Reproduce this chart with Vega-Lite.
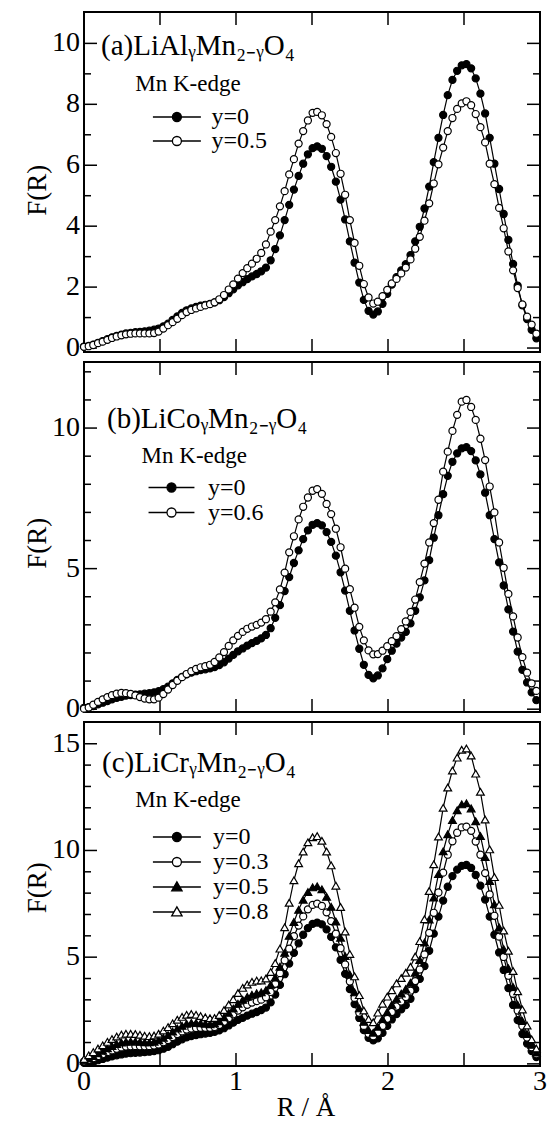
{
"$schema": "https://vega.github.io/schema/vega-lite/v6.json",
"background": "white",
"padding": {"left": 23, "top": 11, "right": 5, "bottom": 2},
"datasets": {
"xt": [{"v":0},{"v":0.5},{"v":1},{"v":1.5},{"v":2},{"v":2.5},{"v":3}],
"xl": [{"v":0},{"v":1},{"v":2},{"v":3}],
"ya": [{"v":0},{"v":2},{"v":4},{"v":6},{"v":8},{"v":10}],
"yam": [{"v":1},{"v":3},{"v":5},{"v":7},{"v":9}],
"yb": [{"v":0},{"v":5},{"v":10}],
"ybm": [{"v":1},{"v":2},{"v":3},{"v":4},{"v":6},{"v":7},{"v":8},{"v":9},{"v":11},{"v":12}],
"yc": [{"v":0},{"v":5},{"v":10},{"v":15}],
"ycm": [{"v":1},{"v":2},{"v":3},{"v":4},{"v":6},{"v":7},{"v":8},{"v":9},{"v":11},{"v":12},{"v":13},{"v":14}],
"one": [{"n":1}],
"fr": [
{"R":0,"A0":0.05,"al":0.04,"co":0.02,"cr3":0.11,"cr5":0.16,"cr8":0.23},
{"R":0.031,"A0":0.07,"al":0.06,"co":0.06,"cr3":0.19,"cr5":0.27,"cr8":0.40},
{"R":0.061,"A0":0.11,"al":0.10,"co":0.16,"cr3":0.26,"cr5":0.37,"cr8":0.55},
{"R":0.092,"A0":0.17,"al":0.16,"co":0.26,"cr3":0.36,"cr5":0.50,"cr8":0.72},
{"R":0.123,"A0":0.23,"al":0.21,"co":0.35,"cr3":0.45,"cr5":0.61,"cr8":0.87},
{"R":0.154,"A0":0.29,"al":0.27,"co":0.43,"cr3":0.55,"cr5":0.73,"cr8":1.03},
{"R":0.184,"A0":0.35,"al":0.33,"co":0.50,"cr3":0.63,"cr5":0.84,"cr8":1.16},
{"R":0.215,"A0":0.40,"al":0.38,"co":0.55,"cr3":0.71,"cr5":0.93,"cr8":1.28},
{"R":0.246,"A0":0.44,"al":0.42,"co":0.58,"cr3":0.77,"cr5":1.00,"cr8":1.37},
{"R":0.276,"A0":0.48,"al":0.45,"co":0.57,"cr3":0.81,"cr5":1.04,"cr8":1.41},
{"R":0.307,"A0":0.50,"al":0.47,"co":0.54,"cr3":0.82,"cr5":1.05,"cr8":1.41},
{"R":0.338,"A0":0.52,"al":0.48,"co":0.49,"cr3":0.83,"cr5":1.05,"cr8":1.40},
{"R":0.368,"A0":0.53,"al":0.48,"co":0.43,"cr3":0.82,"cr5":1.03,"cr8":1.36},
{"R":0.399,"A0":0.55,"al":0.48,"co":0.38,"cr3":0.82,"cr5":1.01,"cr8":1.32},
{"R":0.430,"A0":0.57,"al":0.48,"co":0.35,"cr3":0.83,"cr5":1.01,"cr8":1.30},
{"R":0.461,"A0":0.60,"al":0.49,"co":0.35,"cr3":0.86,"cr5":1.04,"cr8":1.33},
{"R":0.491,"A0":0.64,"al":0.54,"co":0.41,"cr3":0.91,"cr5":1.10,"cr8":1.41},
{"R":0.522,"A0":0.71,"al":0.64,"co":0.54,"cr3":1.01,"cr5":1.22,"cr8":1.56},
{"R":0.553,"A0":0.80,"al":0.75,"co":0.70,"cr3":1.12,"cr5":1.35,"cr8":1.72},
{"R":0.583,"A0":0.92,"al":0.85,"co":0.86,"cr3":1.26,"cr5":1.51,"cr8":1.90},
{"R":0.614,"A0":1.04,"al":0.96,"co":1.01,"cr3":1.40,"cr5":1.66,"cr8":2.07},
{"R":0.645,"A0":1.15,"al":1.08,"co":1.14,"cr3":1.52,"cr5":1.78,"cr8":2.20},
{"R":0.675,"A0":1.24,"al":1.18,"co":1.25,"cr3":1.61,"cr5":1.88,"cr8":2.30},
{"R":0.706,"A0":1.30,"al":1.25,"co":1.35,"cr3":1.66,"cr5":1.92,"cr8":2.34},
{"R":0.737,"A0":1.35,"al":1.30,"co":1.43,"cr3":1.68,"cr5":1.92,"cr8":2.30},
{"R":0.767,"A0":1.39,"al":1.35,"co":1.49,"cr3":1.69,"cr5":1.90,"cr8":2.24},
{"R":0.798,"A0":1.42,"al":1.40,"co":1.53,"cr3":1.69,"cr5":1.88,"cr8":2.18},
{"R":0.829,"A0":1.45,"al":1.44,"co":1.58,"cr3":1.69,"cr5":1.86,"cr8":2.14},
{"R":0.859,"A0":1.50,"al":1.50,"co":1.68,"cr3":1.73,"cr5":1.89,"cr8":2.15},
{"R":0.890,"A0":1.57,"al":1.60,"co":1.84,"cr3":1.82,"cr5":2.00,"cr8":2.29},
{"R":0.921,"A0":1.67,"al":1.74,"co":2.03,"cr3":1.97,"cr5":2.18,"cr8":2.52},
{"R":0.952,"A0":1.80,"al":1.92,"co":2.25,"cr3":2.14,"cr5":2.39,"cr8":2.78},
{"R":0.982,"A0":1.93,"al":2.09,"co":2.45,"cr3":2.32,"cr5":2.59,"cr8":3.03},
{"R":1.013,"A0":2.06,"al":2.28,"co":2.61,"cr3":2.50,"cr5":2.82,"cr8":3.32},
{"R":1.044,"A0":2.16,"al":2.46,"co":2.75,"cr3":2.65,"cr5":3.00,"cr8":3.56},
{"R":1.074,"A0":2.26,"al":2.62,"co":2.86,"cr3":2.77,"cr5":3.14,"cr8":3.72},
{"R":1.105,"A0":2.35,"al":2.77,"co":2.94,"cr3":2.87,"cr5":3.24,"cr8":3.84},
{"R":1.136,"A0":2.43,"al":2.93,"co":3.00,"cr3":2.94,"cr5":3.31,"cr8":3.90},
{"R":1.166,"A0":2.52,"al":3.12,"co":3.08,"cr3":3.01,"cr5":3.35,"cr8":3.91},
{"R":1.197,"A0":2.64,"al":3.40,"co":3.20,"cr3":3.12,"cr5":3.46,"cr8":4.00},
{"R":1.228,"A0":2.88,"al":3.82,"co":3.47,"cr3":3.37,"cr5":3.70,"cr8":4.30},
{"R":1.258,"A0":3.25,"al":4.20,"co":3.80,"cr3":3.75,"cr5":4.05,"cr8":4.72},
{"R":1.289,"A0":3.70,"al":4.65,"co":4.26,"cr3":4.25,"cr5":4.55,"cr8":5.40},
{"R":1.320,"A0":4.20,"al":5.15,"co":4.86,"cr3":4.85,"cr5":5.20,"cr8":6.40},
{"R":1.350,"A0":4.70,"al":5.70,"co":5.58,"cr3":5.40,"cr5":6.00,"cr8":7.55},
{"R":1.381,"A0":5.20,"al":6.20,"co":6.15,"cr3":5.98,"cr5":6.65,"cr8":8.60},
{"R":1.412,"A0":5.65,"al":6.71,"co":6.75,"cr3":6.48,"cr5":7.22,"cr8":9.40},
{"R":1.442,"A0":6.05,"al":7.12,"co":7.20,"cr3":6.91,"cr5":7.69,"cr8":9.95},
{"R":1.473,"A0":6.36,"al":7.47,"co":7.53,"cr3":7.24,"cr5":8.05,"cr8":10.38},
{"R":1.504,"A0":6.56,"al":7.72,"co":7.77,"cr3":7.45,"cr5":8.27,"cr8":10.62},
{"R":1.534,"A0":6.62,"al":7.75,"co":7.83,"cr3":7.51,"cr5":8.32,"cr8":10.67},
{"R":1.565,"A0":6.54,"al":7.64,"co":7.66,"cr3":7.40,"cr5":8.18,"cr8":10.45},
{"R":1.596,"A0":6.30,"al":7.35,"co":7.30,"cr3":7.10,"cr5":7.83,"cr8":9.95},
{"R":1.626,"A0":5.95,"al":6.93,"co":6.94,"cr3":6.69,"cr5":7.36,"cr8":9.30},
{"R":1.657,"A0":5.46,"al":6.40,"co":6.42,"cr3":6.10,"cr5":6.67,"cr8":8.35},
{"R":1.688,"A0":4.87,"al":5.72,"co":5.76,"cr3":5.42,"cr5":5.91,"cr8":7.35},
{"R":1.718,"A0":4.22,"al":5.03,"co":5.00,"cr3":4.66,"cr5":5.05,"cr8":6.20},
{"R":1.749,"A0":3.50,"al":4.20,"co":4.27,"cr3":3.86,"cr5":4.19,"cr8":5.15},
{"R":1.780,"A0":2.80,"al":3.45,"co":3.61,"cr3":3.09,"cr5":3.35,"cr8":4.10},
{"R":1.811,"A0":2.15,"al":2.70,"co":2.93,"cr3":2.39,"cr5":2.60,"cr8":3.22},
{"R":1.841,"A0":1.58,"al":2.10,"co":2.45,"cr3":1.78,"cr5":1.97,"cr8":2.50},
{"R":1.872,"A0":1.22,"al":1.66,"co":2.09,"cr3":1.41,"cr5":1.59,"cr8":2.10},
{"R":1.903,"A0":1.10,"al":1.46,"co":1.95,"cr3":1.29,"cr5":1.46,"cr8":1.95},
{"R":1.933,"A0":1.20,"al":1.52,"co":1.96,"cr3":1.47,"cr5":1.74,"cr8":2.40},
{"R":1.964,"A0":1.45,"al":1.70,"co":2.08,"cr3":1.78,"cr5":2.10,"cr8":2.82},
{"R":1.995,"A0":1.78,"al":1.91,"co":2.24,"cr3":2.11,"cr5":2.43,"cr8":3.15},
{"R":2.025,"A0":2.08,"al":2.12,"co":2.42,"cr3":2.43,"cr5":2.77,"cr8":3.45},
{"R":2.056,"A0":2.33,"al":2.27,"co":2.60,"cr3":2.69,"cr5":3.05,"cr8":3.77},
{"R":2.087,"A0":2.55,"al":2.45,"co":2.85,"cr3":2.92,"cr5":3.29,"cr8":4.02},
{"R":2.117,"A0":2.75,"al":2.64,"co":3.12,"cr3":3.13,"cr5":3.51,"cr8":4.27},
{"R":2.148,"A0":3.05,"al":2.91,"co":3.46,"cr3":3.43,"cr5":3.80,"cr8":4.55},
{"R":2.179,"A0":3.50,"al":3.26,"co":3.90,"cr3":3.88,"cr5":4.27,"cr8":5.03},
{"R":2.209,"A0":3.98,"al":3.65,"co":4.52,"cr3":4.42,"cr5":4.87,"cr8":5.75},
{"R":2.240,"A0":4.58,"al":4.18,"co":5.18,"cr3":5.13,"cr5":5.68,"cr8":6.78},
{"R":2.271,"A0":5.30,"al":4.75,"co":5.93,"cr3":6.14,"cr5":6.76,"cr8":8.10},
{"R":2.301,"A0":6.10,"al":5.40,"co":6.62,"cr3":7.08,"cr5":7.79,"cr8":9.35},
{"R":2.332,"A0":6.90,"al":6.03,"co":7.45,"cr3":8.03,"cr5":8.89,"cr8":10.65},
{"R":2.363,"A0":7.65,"al":6.58,"co":8.45,"cr3":8.96,"cr5":9.96,"cr8":12.00},
{"R":2.393,"A0":8.30,"al":7.12,"co":9.16,"cr3":9.80,"cr5":10.76,"cr8":12.95},
{"R":2.424,"A0":8.80,"al":7.55,"co":9.90,"cr3":10.43,"cr5":11.42,"cr8":13.75},
{"R":2.455,"A0":9.10,"al":7.85,"co":10.47,"cr3":10.83,"cr5":11.88,"cr8":14.35},
{"R":2.485,"A0":9.28,"al":8.03,"co":10.94,"cr3":11.08,"cr5":12.16,"cr8":14.72},
{"R":2.516,"A0":9.32,"al":8.10,"co":11.00,"cr3":11.12,"cr5":12.21,"cr8":14.78},
{"R":2.547,"A0":9.18,"al":7.97,"co":10.75,"cr3":10.92,"cr5":11.97,"cr8":14.45},
{"R":2.577,"A0":8.85,"al":7.68,"co":10.29,"cr3":10.42,"cr5":11.37,"cr8":13.60},
{"R":2.608,"A0":8.35,"al":7.25,"co":9.62,"cr3":9.80,"cr5":10.68,"cr8":12.75},
{"R":2.639,"A0":7.70,"al":6.75,"co":8.86,"cr3":8.94,"cr5":9.69,"cr8":11.45},
{"R":2.669,"A0":6.90,"al":6.05,"co":7.92,"cr3":7.94,"cr5":8.57,"cr8":10.05},
{"R":2.700,"A0":6.05,"al":5.38,"co":7.00,"cr3":6.94,"cr5":7.48,"cr8":8.75},
{"R":2.731,"A0":5.22,"al":4.60,"co":5.93,"cr3":5.96,"cr5":6.40,"cr8":7.45},
{"R":2.761,"A0":4.40,"al":3.93,"co":5.03,"cr3":5.01,"cr5":5.38,"cr8":6.25},
{"R":2.792,"A0":3.55,"al":3.17,"co":4.10,"cr3":4.13,"cr5":4.48,"cr8":5.30},
{"R":2.823,"A0":2.76,"al":2.55,"co":3.30,"cr3":3.28,"cr5":3.60,"cr8":4.35},
{"R":2.853,"A0":2.05,"al":1.97,"co":2.55,"cr3":2.50,"cr5":2.77,"cr8":3.40},
{"R":2.884,"A0":1.40,"al":1.43,"co":1.85,"cr3":1.78,"cr5":2.01,"cr8":2.55},
{"R":2.915,"A0":0.95,"al":1.03,"co":1.30,"cr3":1.23,"cr5":1.40,"cr8":1.80},
{"R":2.945,"A0":0.60,"al":0.77,"co":0.92,"cr3":0.78,"cr5":0.89,"cr8":1.15},
{"R":2.976,"A0":0.32,"al":0.47,"co":0.65,"cr3":0.45,"cr5":0.53,"cr8":0.72}
]},
"vconcat": [
{
 "width": 456, "height": 340,
 "title": {"text": "(a)LiAlᵧMn₂₋ᵧO₄", "anchor": "start", "frame": "group", "offset": -49, "dx": 17},
 "layer": [
  {"data": {"name": "xt"}, "mark": {"type": "tick", "orient": "vertical", "size": 26, "thickness": 1.5, "color": "black", "opacity": 1, "clip": true},
   "encoding": {"x": {"field": "v", "type": "quantitative", "axis": null}, "y": {"datum": -0.13, "type": "quantitative", "axis": null}}},
  {"data": {"name": "xt"}, "mark": {"type": "tick", "orient": "vertical", "size": 26, "thickness": 1.5, "color": "black", "opacity": 1, "clip": true},
   "encoding": {"x": {"field": "v", "type": "quantitative", "axis": null}, "y": {"datum": 11.03, "type": "quantitative", "axis": null}}},
  {"data": {"name": "ya"}, "mark": {"type": "tick", "orient": "horizontal", "size": 26, "thickness": 1.5, "color": "black", "opacity": 1, "clip": true},
   "encoding": {"y": {"field": "v", "type": "quantitative", "axis": null}, "x": {"datum": 0, "type": "quantitative", "axis": null}}},
  {"data": {"name": "ya"}, "mark": {"type": "tick", "orient": "horizontal", "size": 26, "thickness": 1.5, "color": "black", "opacity": 1, "clip": true},
   "encoding": {"y": {"field": "v", "type": "quantitative", "axis": null}, "x": {"datum": 3, "type": "quantitative", "axis": null}}},
  {"data": {"name": "yam"}, "mark": {"type": "tick", "orient": "horizontal", "size": 14, "thickness": 1.5, "color": "black", "opacity": 1, "clip": true},
   "encoding": {"y": {"field": "v", "type": "quantitative", "axis": null}, "x": {"datum": 0, "type": "quantitative", "axis": null}}},
  {"data": {"name": "yam"}, "mark": {"type": "tick", "orient": "horizontal", "size": 14, "thickness": 1.5, "color": "black", "opacity": 1, "clip": true},
   "encoding": {"y": {"field": "v", "type": "quantitative", "axis": null}, "x": {"datum": 3, "type": "quantitative", "axis": null}}},
  {"data": {"name": "fr"}, "transform": [{"fold": ["A0", "al"], "as": ["s", "F"]}],
   "layer": [
    {"mark": {"type": "line", "color": "black", "strokeWidth": 1.2},
     "encoding": {
      "x": {"field": "R", "type": "quantitative", "scale": {"domain": [0, 3], "nice": false, "zero": false}, "axis": null},
      "y": {"field": "F", "type": "quantitative", "scale": {"domain": [-0.13, 11.03], "nice": false, "zero": false}, "axis": null},
      "detail": {"field": "s"}
     }},
    {"transform": [{"filter": "datum.s === 'A0'"}],
     "mark": {"type": "point", "shape": "circle", "filled": true, "stroke": "black", "strokeWidth": 1.2, "size": 50, "opacity": 1, "fillOpacity": 1},
     "encoding": {
      "x": {"field": "R", "type": "quantitative", "axis": null},
      "y": {"field": "F", "type": "quantitative", "axis": null},
      "fill": {"field": "s", "type": "nominal", "scale": {"domain": ["A0", "al"], "range": ["black", "white"]},
               "legend": {"orient": "none", "legendX": 51.3, "legendY": 61, "title": "Mn K-edge", "titlePadding": 9, "labelExpr": "datum.value === 'A0' ? 'y=0' : 'y=0.5'", "symbolOffset": 29.6, "labelOffset": 22.6, "rowPadding": 0,
                          "encode": {"symbols": {"update": {"shape": {"value": "M-5.33,0H-1M1,0H5.33M1,0A1,1,0,1,1,-1,0A1,1,0,1,1,1,0Z"}, "size": {"value": 81}, "stroke": {"value": "black"}, "strokeWidth": {"value": 1.3}, "opacity": {"value": 1}}}}}}
     }},
    {"transform": [{"filter": "datum.s !== 'A0'"}],
     "mark": {"type": "point", "shape": "circle", "filled": true, "stroke": "black", "strokeWidth": 1.2, "size": 50, "opacity": 1, "fillOpacity": 1},
     "encoding": {
      "x": {"field": "R", "type": "quantitative", "axis": null},
      "y": {"field": "F", "type": "quantitative", "axis": null},
      "fill": {"field": "s", "type": "nominal"}
     }}
   ]},
  {"data": {"name": "ya"}, "mark": {"type": "text", "align": "right", "baseline": "middle", "dx": -4, "font": "Liberation Serif", "fontSize": 28, "color": "black"},
   "encoding": {"y": {"field": "v", "type": "quantitative", "axis": null}, "x": {"datum": 0, "type": "quantitative", "axis": null}, "text": {"field": "v", "type": "quantitative", "format": "d"}}},
  {"data": {"name": "one"}, "mark": {"type": "text", "text": "F(R)", "align": "center", "baseline": "middle", "angle": 270, "font": "Liberation Serif", "fontSize": 27, "color": "black"},
   "encoding": {"x": {"datum": -0.3, "type": "quantitative", "axis": null}, "y": {"datum": 5.18, "type": "quantitative", "axis": null}}}
 ]
},
{
 "width": 456, "height": 350,
 "title": {"text": "(b)LiCoᵧMn₂₋ᵧO₄", "anchor": "start", "frame": "group", "offset": -72, "dx": 23},
 "layer": [
  {"data": {"name": "xt"}, "mark": {"type": "tick", "orient": "vertical", "size": 26, "thickness": 1.5, "color": "black", "opacity": 1, "clip": true},
   "encoding": {"x": {"field": "v", "type": "quantitative", "axis": null}, "y": {"datum": -0.1, "type": "quantitative", "axis": null}}},
  {"data": {"name": "xt"}, "mark": {"type": "tick", "orient": "vertical", "size": 26, "thickness": 1.5, "color": "black", "opacity": 1, "clip": true},
   "encoding": {"x": {"field": "v", "type": "quantitative", "axis": null}, "y": {"datum": 12.35, "type": "quantitative", "axis": null}}},
  {"data": {"name": "yb"}, "mark": {"type": "tick", "orient": "horizontal", "size": 26, "thickness": 1.5, "color": "black", "opacity": 1, "clip": true},
   "encoding": {"y": {"field": "v", "type": "quantitative", "axis": null}, "x": {"datum": 0, "type": "quantitative", "axis": null}}},
  {"data": {"name": "yb"}, "mark": {"type": "tick", "orient": "horizontal", "size": 26, "thickness": 1.5, "color": "black", "opacity": 1, "clip": true},
   "encoding": {"y": {"field": "v", "type": "quantitative", "axis": null}, "x": {"datum": 3, "type": "quantitative", "axis": null}}},
  {"data": {"name": "ybm"}, "mark": {"type": "tick", "orient": "horizontal", "size": 14, "thickness": 1.5, "color": "black", "opacity": 1, "clip": true},
   "encoding": {"y": {"field": "v", "type": "quantitative", "axis": null}, "x": {"datum": 0, "type": "quantitative", "axis": null}}},
  {"data": {"name": "ybm"}, "mark": {"type": "tick", "orient": "horizontal", "size": 14, "thickness": 1.5, "color": "black", "opacity": 1, "clip": true},
   "encoding": {"y": {"field": "v", "type": "quantitative", "axis": null}, "x": {"datum": 3, "type": "quantitative", "axis": null}}},
  {"data": {"name": "fr"}, "transform": [{"fold": ["A0", "co"], "as": ["s", "F"]}],
   "layer": [
    {"mark": {"type": "line", "color": "black", "strokeWidth": 1.2},
     "encoding": {
      "x": {"field": "R", "type": "quantitative", "scale": {"domain": [0, 3], "nice": false, "zero": false}, "axis": null},
      "y": {"field": "F", "type": "quantitative", "scale": {"domain": [-0.1, 12.35], "nice": false, "zero": false}, "axis": null},
      "detail": {"field": "s"}
     }},
    {"transform": [{"filter": "datum.s === 'A0'"}],
     "mark": {"type": "point", "shape": "circle", "filled": true, "stroke": "black", "strokeWidth": 1.2, "size": 50, "opacity": 1, "fillOpacity": 1},
     "encoding": {
      "x": {"field": "R", "type": "quantitative", "axis": null},
      "y": {"field": "F", "type": "quantitative", "axis": null},
      "fill": {"field": "s", "type": "nominal", "scale": {"domain": ["A0", "co"], "range": ["black", "white"]},
               "legend": {"orient": "none", "legendX": 57.6, "legendY": 82.5, "title": "Mn K-edge", "titlePadding": 8, "labelExpr": "datum.value === 'A0' ? 'y=0' : 'y=0.6'", "symbolOffset": 17.9, "labelOffset": 24.5, "rowPadding": 1,
                          "encode": {"symbols": {"update": {"shape": {"value": "M-5.1,0H-1M1,0H5.1M1,0A1,1,0,1,1,-1,0A1,1,0,1,1,1,0Z"}, "size": {"value": 81}, "stroke": {"value": "black"}, "strokeWidth": {"value": 1.3}, "opacity": {"value": 1}}}}}}
     }},
    {"transform": [{"filter": "datum.s !== 'A0'"}],
     "mark": {"type": "point", "shape": "circle", "filled": true, "stroke": "black", "strokeWidth": 1.2, "size": 50, "opacity": 1, "fillOpacity": 1},
     "encoding": {
      "x": {"field": "R", "type": "quantitative", "axis": null},
      "y": {"field": "F", "type": "quantitative", "axis": null},
      "fill": {"field": "s", "type": "nominal"}
     }}
   ]},
  {"data": {"name": "yb"}, "mark": {"type": "text", "align": "right", "baseline": "middle", "dx": -4, "font": "Liberation Serif", "fontSize": 28, "color": "black"},
   "encoding": {"y": {"field": "v", "type": "quantitative", "axis": null}, "x": {"datum": 0, "type": "quantitative", "axis": null}, "text": {"field": "v", "type": "quantitative", "format": "d"}}},
  {"data": {"name": "one"}, "mark": {"type": "text", "text": "F(R)", "align": "center", "baseline": "middle", "angle": 270, "font": "Liberation Serif", "fontSize": 27, "color": "black"},
   "encoding": {"x": {"datum": -0.3, "type": "quantitative", "axis": null}, "y": {"datum": 5.9, "type": "quantitative", "axis": null}}}
 ]
},
{
 "width": 456, "height": 344,
 "title": {"text": "(c)LiCrᵧMn₂₋ᵧO₄", "anchor": "start", "frame": "group", "offset": -56, "dx": 18},
 "layer": [
  {"data": {"name": "xt"}, "mark": {"type": "tick", "orient": "vertical", "size": 26, "thickness": 1.5, "color": "black", "opacity": 1, "clip": true},
   "encoding": {"x": {"field": "v", "type": "quantitative", "axis": null}, "y": {"datum": -0.1, "type": "quantitative", "axis": null}}},
  {"data": {"name": "xt"}, "mark": {"type": "tick", "orient": "vertical", "size": 26, "thickness": 1.5, "color": "black", "opacity": 1, "clip": true},
   "encoding": {"x": {"field": "v", "type": "quantitative", "axis": null}, "y": {"datum": 16.02, "type": "quantitative", "axis": null}}},
  {"data": {"name": "yc"}, "mark": {"type": "tick", "orient": "horizontal", "size": 26, "thickness": 1.5, "color": "black", "opacity": 1, "clip": true},
   "encoding": {"y": {"field": "v", "type": "quantitative", "axis": null}, "x": {"datum": 0, "type": "quantitative", "axis": null}}},
  {"data": {"name": "yc"}, "mark": {"type": "tick", "orient": "horizontal", "size": 26, "thickness": 1.5, "color": "black", "opacity": 1, "clip": true},
   "encoding": {"y": {"field": "v", "type": "quantitative", "axis": null}, "x": {"datum": 3, "type": "quantitative", "axis": null}}},
  {"data": {"name": "ycm"}, "mark": {"type": "tick", "orient": "horizontal", "size": 14, "thickness": 1.5, "color": "black", "opacity": 1, "clip": true},
   "encoding": {"y": {"field": "v", "type": "quantitative", "axis": null}, "x": {"datum": 0, "type": "quantitative", "axis": null}}},
  {"data": {"name": "ycm"}, "mark": {"type": "tick", "orient": "horizontal", "size": 14, "thickness": 1.5, "color": "black", "opacity": 1, "clip": true},
   "encoding": {"y": {"field": "v", "type": "quantitative", "axis": null}, "x": {"datum": 3, "type": "quantitative", "axis": null}}},
  {"data": {"name": "fr"}, "transform": [{"fold": ["A0", "cr3", "cr5", "cr8"], "as": ["s", "F"]}],
   "layer": [
    {"mark": {"type": "line", "color": "black", "strokeWidth": 1.2},
     "encoding": {
      "x": {"field": "R", "type": "quantitative", "scale": {"domain": [0, 3], "nice": false, "zero": false}, "axis": null},
      "y": {"field": "F", "type": "quantitative", "scale": {"domain": [-0.1, 16.02], "nice": false, "zero": false}, "axis": null},
      "detail": {"field": "s"}
     }},
    {"transform": [{"filter": "datum.s === 'A0' || datum.s === 'cr3'"}],
     "mark": {"type": "point", "shape": "circle", "filled": true, "stroke": "black", "strokeWidth": 1.2, "size": 50, "opacity": 1, "fillOpacity": 1},
     "encoding": {
      "x": {"field": "R", "type": "quantitative", "axis": null},
      "y": {"field": "F", "type": "quantitative", "axis": null},
      "fill": {"field": "s", "type": "nominal", "scale": {"domain": ["A0", "cr3", "cr5", "cr8"], "range": ["black", "white", "black", "white"]},
               "legend": {"orient": "none", "legendX": 51.3, "legendY": 67, "title": "Mn K-edge", "titlePadding": 13, "labelExpr": "datum.value === 'A0' ? 'y=0' : datum.value === 'cr3' ? 'y=0.3' : datum.value === 'cr5' ? 'y=0.5' : 'y=0.8'", "symbolOffset": 29.6, "labelOffset": 24.1, "rowPadding": 1,
                          "encode": {"symbols": {"update": {"shape": {"signal": "datum.value === 'A0' || datum.value === 'cr3' ? 'M-5.33,0H-1M1,0H5.33M1,0A1,1,0,1,1,-1,0A1,1,0,1,1,1,0Z' : 'M-5.33,0H-0.66M0.66,0H5.33M0,-1.15L1.15,0.85L-1.15,0.85Z'"}, "size": {"value": 81}, "stroke": {"value": "black"}, "strokeWidth": {"value": 1.3}, "opacity": {"value": 1}}}}}},
      "order": {"field": "s", "type": "ordinal"}
     }},
    {"transform": [{"filter": "datum.s === 'cr5' || datum.s === 'cr8'"}],
     "mark": {"type": "point", "shape": "triangle-up", "filled": true, "stroke": "black", "strokeWidth": 1.2, "size": 60, "opacity": 1, "fillOpacity": 1},
     "encoding": {
      "x": {"field": "R", "type": "quantitative", "axis": null},
      "y": {"field": "F", "type": "quantitative", "axis": null},
      "fill": {"field": "s", "type": "nominal"},
      "order": {"field": "s", "type": "ordinal"}
     }}
   ]},
  {"data": {"name": "yc"}, "mark": {"type": "text", "align": "right", "baseline": "middle", "dx": -4, "font": "Liberation Serif", "fontSize": 28, "color": "black"},
   "encoding": {"y": {"field": "v", "type": "quantitative", "axis": null}, "x": {"datum": 0, "type": "quantitative", "axis": null}, "text": {"field": "v", "type": "quantitative", "format": "d"}}},
  {"data": {"name": "xl"}, "mark": {"type": "text", "align": "center", "baseline": "top", "dy": 2, "font": "Liberation Serif", "fontSize": 28, "color": "black"},
   "encoding": {"x": {"field": "v", "type": "quantitative", "axis": null}, "y": {"datum": -0.1, "type": "quantitative", "axis": null}, "text": {"field": "v", "type": "quantitative", "format": "d"}}},
  {"data": {"name": "one"}, "mark": {"type": "text", "text": "F(R)", "align": "center", "baseline": "middle", "angle": 270, "font": "Liberation Serif", "fontSize": 27, "color": "black"},
   "encoding": {"x": {"datum": -0.3, "type": "quantitative", "axis": null}, "y": {"datum": 8.25, "type": "quantitative", "axis": null}}},
  {"data": {"name": "one"}, "mark": {"type": "text", "text": "R / Å", "align": "center", "baseline": "middle", "font": "Liberation Serif", "fontSize": 27, "color": "black"},
   "encoding": {"x": {"datum": 1.46, "type": "quantitative", "axis": null}, "y": {"datum": -2.05, "type": "quantitative", "axis": null}}}
 ]
}
],
"spacing": 10,
"bounds": "flush",
"resolve": {"scale": {"x": "independent", "y": "independent", "fill": "independent"}, "legend": {"fill": "independent"}},
"config": {
 "view": {"stroke": "black", "strokeWidth": 2},
 "font": "Liberation Serif",
 "legend": {"titleFont": "Liberation Serif", "titleFontSize": 23, "titleFontWeight": "normal", "titleColor": "black", "titleAnchor": "start", "labelFont": "Liberation Serif", "labelFontSize": 24, "labelColor": "black", "symbolSize": 81, "symbolStrokeColor": "black", "symbolStrokeWidth": 1.3, "padding": 0, "symbolOpacity": 1},
 "title": {"font": "Liberation Serif", "fontSize": 29, "fontWeight": "normal", "color": "black"}
}
}
